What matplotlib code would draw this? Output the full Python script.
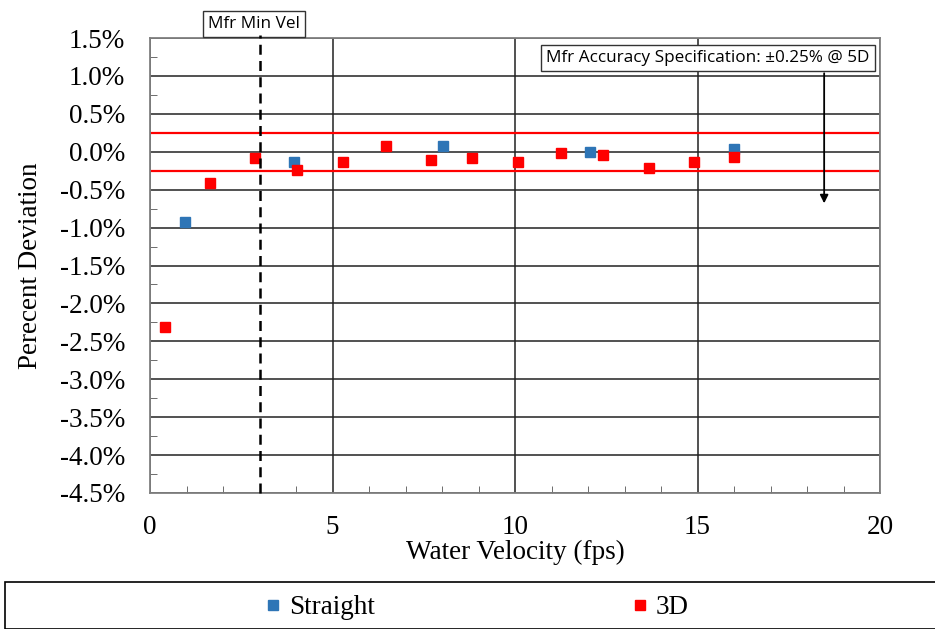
import matplotlib
matplotlib.use('Agg')
import matplotlib.pyplot as plt
from matplotlib.ticker import MultipleLocator, FuncFormatter
from matplotlib.lines import Line2D
from matplotlib.patches import Rectangle

# data
straight_x = [0.96, 3.95, 8.04, 12.05, 16.01]
straight_y = [-0.93, -0.14, 0.07, 0.00, 0.03]
d3_x = [0.41, 1.64, 2.87, 4.04, 5.29, 6.46, 7.70, 8.81,
        10.09, 11.26, 12.42, 13.67, 14.90, 16.01]
d3_y = [-2.31, -0.41, -0.08, -0.24, -0.13, 0.07, -0.11, -0.08,
        -0.14, -0.01, -0.04, -0.21, -0.14, -0.065]
spec = 0.25
min_vel = 3.0

blue = '#2E75B6'
red = '#FF0000'
sans = 'Open Sans'

plt.rcParams['font.family'] = ['Liberation Serif', 'DejaVu Serif']

fig = plt.figure(figsize=(9.35, 6.29), dpi=100)
ax = fig.add_axes([150/935, 1-493/629, 730/935, 455/629])

ax.set_xlim(0, 20)
ax.set_ylim(-4.5, 1.5)
ax.xaxis.set_major_locator(MultipleLocator(5))
ax.xaxis.set_minor_locator(MultipleLocator(1))
ax.yaxis.set_major_locator(MultipleLocator(0.5))
ax.yaxis.set_minor_locator(MultipleLocator(0.25))
ax.yaxis.set_major_formatter(FuncFormatter(lambda v, p: '%.1f%%' % v))
ax.grid(True, which='major', color='#222222', lw=1.1)
ax.set_axisbelow(True)
ax.tick_params(which='major', length=0, labelsize=19.5)
ax.tick_params(axis='y', which='major', pad=18)
ax.tick_params(axis='x', which='major', pad=16)
ax.tick_params(which='minor', direction='in', length=5, color='#555555')
for s in ax.spines.values():
    s.set_color('#808080')
    s.set_linewidth(1.3)

ax.axhline(spec, color=red, lw=1.6, zorder=2)
ax.axhline(-spec, color=red, lw=1.6, zorder=2)

ax.plot(straight_x, straight_y, 's', color=blue, ms=6.8, zorder=3)
ax.plot(d3_x, d3_y, 's', color=red, ms=6.8, zorder=4)

ax.plot([min_vel, min_vel], [-4.5, 1.54], color='black', lw=1.8,
        ls=(0, (4, 2.5)), clip_on=False, zorder=5)
ax.text(2.85, 1.685, 'Mfr Min Vel', ha='center', va='center', fontsize=12.3,
        family=sans, clip_on=False,
        bbox=dict(boxstyle='square,pad=0.3', fc='white', ec='#333333', lw=1))

ax.annotate('', xy=(18.47, -0.68), xytext=(18.47, 1.035),
            arrowprops=dict(arrowstyle='-|>', color='black', lw=1.3,
                            mutation_scale=12, shrinkA=0, shrinkB=0))
ax.text(15.29, 1.236, u'Mfr Accuracy Specification: \u00b10.25% @ 5D',
        ha='center', va='center', fontsize=12.3, family=sans,
        bbox=dict(boxstyle='square,pad=0.3', fc='white', ec='#333333', lw=1))

ax.set_xlabel('Water Velocity (fps)', fontsize=19.5, labelpad=0)
ax.set_ylabel('Perecent Deviation', fontsize=19.5, labelpad=12)

# legend box at the bottom
fig.patches.append(Rectangle((5/935, 0), 935/935, 1-582/629,
                             transform=fig.transFigure, fill=False,
                             ec='black', lw=1.2))
handles = [Line2D([], [], ls='', marker='s', color=blue, ms=6.8),
           Line2D([], [], ls='', marker='s', color=red, ms=6.8)]
fig.legend(handles, ['Straight', '3D'], ncol=2, loc='center',
           bbox_to_anchor=(477/935, 1-608/629), frameon=False,
           fontsize=19.5, handlelength=0.6,
           handletextpad=0.3, columnspacing=9.45)

fig.savefig('out.png', dpi=100)
